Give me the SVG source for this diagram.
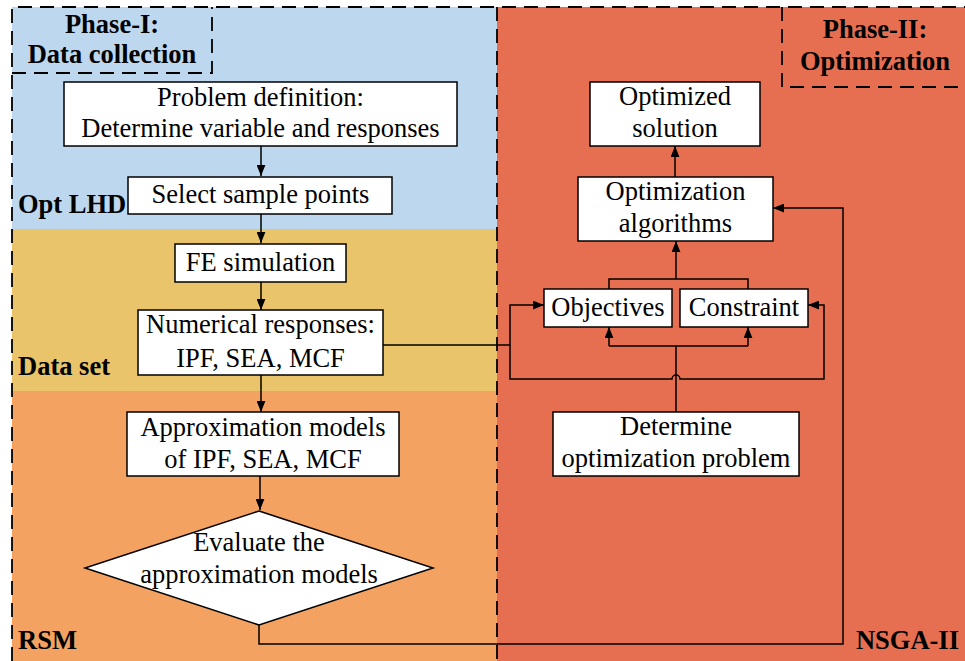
<svg xmlns="http://www.w3.org/2000/svg" width="965" height="661" viewBox="0 0 965 661">
<style>
.box{fill:#fff;stroke:#000;stroke-width:1.5}
.t{font-family:"Liberation Serif","Times New Roman",serif;font-size:26.5px;fill:#000;text-anchor:middle}
.b{font-family:"Liberation Serif","Times New Roman",serif;font-size:26.5px;font-weight:bold;fill:#000}
.dash{fill:none;stroke:#000;stroke-width:1.8;stroke-dasharray:14,8}
.c{fill:none;stroke:#000;stroke-width:1.5}
</style>
<defs>
<marker id="ah" viewBox="0 0 10 8" refX="10" refY="4" markerWidth="11" markerHeight="9" orient="auto" markerUnits="userSpaceOnUse"><path d="M0,0 L10,4 L0,8 z" fill="#000"/></marker>
</defs>
<rect width="965" height="661" fill="#fff"/>
<g id="backgrounds">
<rect x="12" y="7" width="485" height="222" fill="#BDD7EE"/>
<rect x="12" y="229" width="485" height="162" fill="#E9C46A"/>
<rect x="12" y="391" width="485" height="270" fill="#F4A261"/>
<rect x="497" y="7" width="468" height="654" fill="#E76F51"/>
</g>
<g id="frames">
<path class="dash" d="M12,661 V7 H965"/>
<path class="dash" d="M497,7 V661"/>
<path class="dash" d="M12,73 H212 V7"/>
<path class="dash" d="M782,7 V87 H965"/>
</g>
<g id="labels">
<text class="b" x="112" y="32.5" text-anchor="middle">Phase-I:</text>
<text class="b" x="112" y="63" text-anchor="middle">Data collection</text>
<text class="b" x="875" y="38" text-anchor="middle">Phase-II:</text>
<text class="b" x="875" y="70" text-anchor="middle">Optimization</text>
<text class="b" x="18" y="213">Opt LHD</text>
<text class="b" x="18" y="375">Data set</text>
<text class="b" x="18" y="649">RSM</text>
<text class="b" x="959" y="649" text-anchor="end">NSGA-II</text>
</g>
<g id="connectors">
<path class="c" d="M261,146 V176" marker-end="url(#ah)"/>
<path class="c" d="M261,214 V243" marker-end="url(#ah)"/>
<path class="c" d="M261,282 V310" marker-end="url(#ah)"/>
<path class="c" d="M261,375 V412" marker-end="url(#ah)"/>
<path class="c" d="M260,476 V510" marker-end="url(#ah)"/>
<path class="c" d="M259,625 V644 H843 V208 H773" marker-end="url(#ah)"/>
<path class="c" d="M383,345 H510 V305 H544" marker-end="url(#ah)"/>
<path class="c" d="M510,345 V379 H672 A4,4 0 0 1 680,379 H824 V305 H808" marker-end="url(#ah)"/>
<path class="c" d="M676,412 V346 M609,346 H748"/>
<path class="c" d="M609,346 V327" marker-end="url(#ah)"/>
<path class="c" d="M748,346 V327" marker-end="url(#ah)"/>
<path class="c" d="M609,289 V279 H748 V289"/>
<path class="c" d="M676,279 V241" marker-end="url(#ah)"/>
<path class="c" d="M675,177 V146" marker-end="url(#ah)"/>
</g>
<g id="problem-definition">
<rect class="box" x="64" y="82" width="393" height="64"/>
<text class="t" x="260.5" y="106">Problem definition:</text>
<text class="t" x="260.5" y="137">Determine variable and responses</text>
</g>
<g id="select-sample-points">
<rect class="box" x="128" y="177" width="264" height="37"/>
<text class="t" x="260.5" y="203">Select sample points</text>
</g>
<g id="fe-simulation">
<rect class="box" x="175" y="244" width="171" height="38"/>
<text class="t" x="260.5" y="271">FE simulation</text>
</g>
<g id="numerical-responses">
<rect class="box" x="138" y="310" width="245" height="65"/>
<text class="t" x="260.5" y="333">Numerical responses:</text>
<text class="t" x="260.5" y="366.5">IPF, SEA, MCF</text>
</g>
<g id="approximation-models">
<rect class="box" x="127" y="412" width="272" height="64"/>
<text class="t" x="263" y="436">Approximation models</text>
<text class="t" x="263" y="468">of IPF, SEA, MCF</text>
</g>
<g id="evaluate">
<polygon class="box" points="259,511 433,568 259,625 85,568"/>
<text class="t" x="259" y="551">Evaluate the</text>
<text class="t" x="259" y="583">approximation models</text>
</g>
<g id="optimized-solution">
<rect class="box" x="590" y="82" width="170" height="64"/>
<text class="t" x="675" y="105">Optimized</text>
<text class="t" x="675" y="137">solution</text>
</g>
<g id="optimization-algorithms">
<rect class="box" x="578" y="177" width="195" height="64"/>
<text class="t" x="675.5" y="200">Optimization</text>
<text class="t" x="675.5" y="232">algorithms</text>
</g>
<g id="objectives">
<rect class="box" x="544" y="289" width="128" height="38"/>
<text class="t" x="608" y="316">Objectives</text>
</g>
<g id="constraint">
<rect class="box" x="680" y="289" width="128" height="38"/>
<text class="t" x="744" y="316">Constraint</text>
</g>
<g id="determine-optimization-problem">
<rect class="box" x="553" y="412" width="246" height="64"/>
<text class="t" x="676" y="435">Determine</text>
<text class="t" x="676" y="467">optimization problem</text>
</g>
</svg>
